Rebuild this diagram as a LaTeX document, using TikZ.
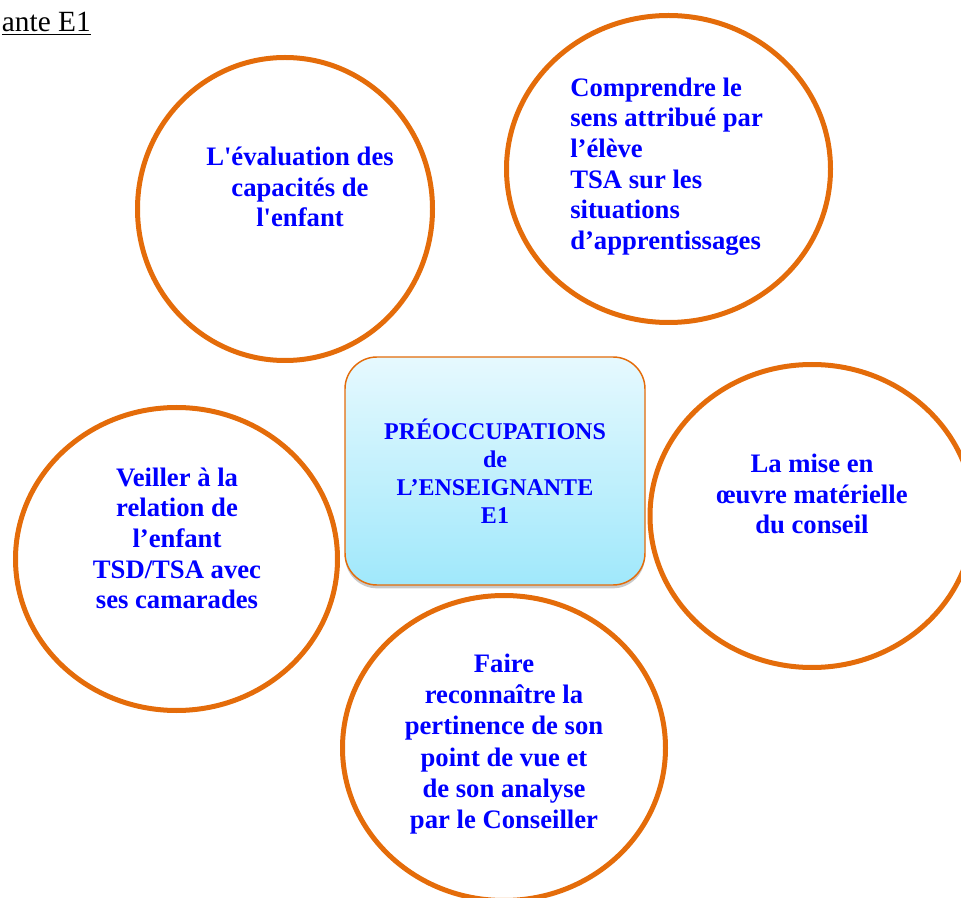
\documentclass[tikz,border=0pt]{standalone}
\usepackage{fontspec}
\setmainfont{Liberation Serif}
\usetikzlibrary{shapes.geometric,shadows}
\definecolor{bordure}{RGB}{228,108,10}
\definecolor{texte}{RGB}{0,0,255}
\definecolor{ciel}{RGB}{230,249,254}
\definecolor{cielfonce}{RGB}{160,232,251}
\begin{document}
\begin{tikzpicture}[x=0.75pt,y=-0.75pt,
    bulle/.style ={ellipse, draw=bordure, line width=3.75pt, inner sep=0pt},
    idee/.style ={text=texte, font=\fontsize{20}{23}\selectfont\bfseries, align=center, inner sep=0pt},
    centre/.style ={rectangle, rounded corners=24pt, draw=bordure, line width=1.1pt,
        top color=ciel, bottom color=cielfonce, minimum width=225pt, minimum height=171pt,
        drop shadow={shadow xshift=0pt, shadow yshift=-2.5pt, fill=black!30, opacity=.7}}]
   \useasboundingbox (0,0) rectangle (961,898);

   \node[anchor=base east, inner sep=0pt, font=\fontsize{22}{24}\selectfont] (titre) at (91,32) {\underline{ante E1}};

   \node[bulle, minimum width=221.25pt, minimum height=227.25pt] (A) at (285,209) {};
   \node[bulle, minimum width=243pt, minimum height=230.25pt] (B) at (668.5,169) {};
   \node[bulle, minimum width=241.5pt, minimum height=227.25pt] (C) at (176.5,559) {};
   \node[bulle, minimum width=243pt, minimum height=227.25pt] (D) at (812,516) {};
   \node[bulle, minimum width=242.25pt, minimum height=228.75pt] (E) at (504,748) {};
   \node[centre] (M) at (495,471) {};

   \node[idee] (a) at (300,187) {L\textquotesingle évaluation des\\capacités de\\l\textquotesingle enfant};
   \node[idee, align=left, anchor=west] (b) at (570,166.5) {Comprendre le\\sens attribué par\\l’élève\\TSA sur les\\situations\\d’apprentissages};
   \node[idee] (c) at (177,538.5) {Veiller à la\\relation de\\l’enfant\\TSD/TSA avec\\ses camarades};
   \node[idee, font=\fontsize{18}{21}\selectfont\bfseries] (m) at (495,471) {PRÉOCCUPATIONS\\de\\L’ENSEIGNANTE\\E1};
   \node[idee] (d) at (812,494) {La mise en\\œuvre matérielle\\du conseil};
   \node[idee, font=\fontsize{20}{23.5}\selectfont\bfseries] (e) at (504,744) {Faire\\reconnaître la\\pertinence de son\\point de vue et\\de son analyse\\par le Conseiller};

 \end{tikzpicture}
\end{document}
